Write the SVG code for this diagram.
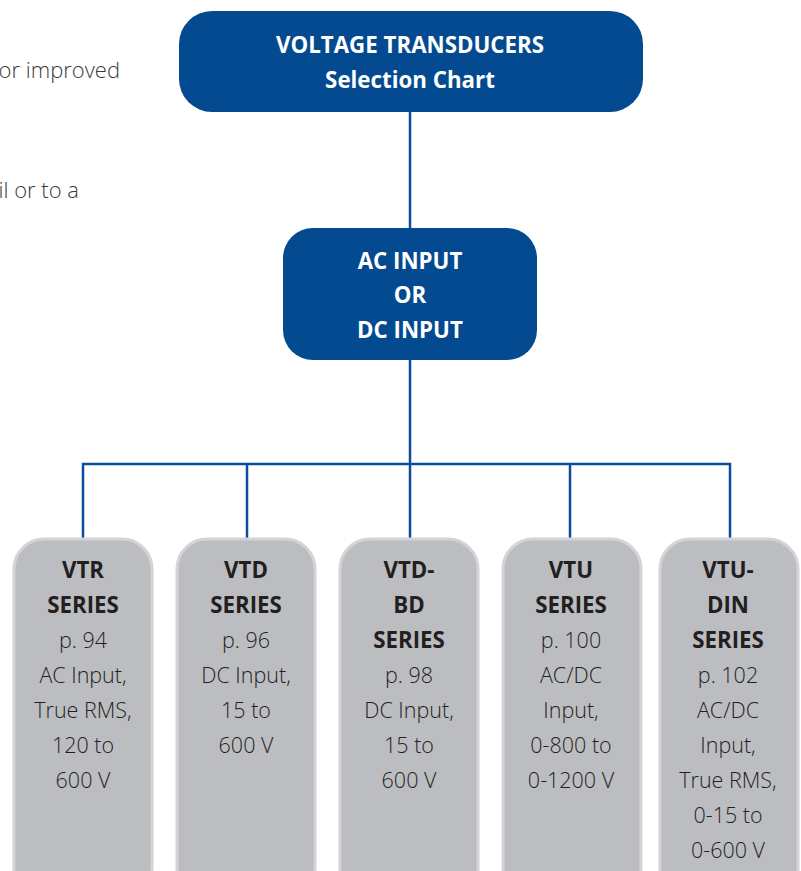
<svg xmlns="http://www.w3.org/2000/svg" width="801" height="871" viewBox="0 0 801 871">
<style>
.blue{fill:#034a91;}
.gray{fill:#bcbdc0;stroke:#d3d4d6;stroke-width:3;}
.wt{font-family:"Open Sans","Liberation Sans",sans-serif;font-weight:700;font-size:22.3px;fill:#ffffff;text-anchor:middle;}
.bt{font-family:"Open Sans","Liberation Sans",sans-serif;font-weight:700;font-size:22.3px;fill:#231f20;text-anchor:middle;}
.rt{font-family:"Open Sans","Liberation Sans",sans-serif;font-weight:300;font-size:21.5px;fill:#231f20;text-anchor:middle;}
.side{font-family:"Open Sans","Liberation Sans",sans-serif;font-weight:300;font-size:22px;fill:#3b3b3d;text-anchor:end;}
.conn{fill:none;stroke:#0b4f9c;stroke-width:2.5;}
</style>
<rect width="801" height="871" fill="#ffffff"/>
<g id="side-text">
<text class="side" x="120" y="78">or improved</text>
<text class="side" x="79" y="198">il or to a</text>
</g>
<g id="connectors">
<path class="conn" d="M410 112 V229"/>
<path class="conn" d="M410 360 V464"/>
<path class="conn" d="M83 538 V464 H730 V538"/>
<path class="conn" d="M247 464 V538"/>
<path class="conn" d="M410 464 V538"/>
<path class="conn" d="M570 464 V538"/>
</g>
<g id="title">
<rect class="blue" x="179" y="11" width="464" height="101" rx="33"/>
<text class="wt" x="410" y="53">VOLTAGE TRANSDUCERS</text>
<text class="wt" x="410" y="88">Selection Chart</text>
</g>
<g id="input">
<rect class="blue" x="283" y="228" width="254" height="132" rx="30"/>
<text class="wt" x="410" y="269">AC INPUT</text>
<text class="wt" x="410" y="303">OR</text>
<text class="wt" x="410" y="338">DC INPUT</text>
</g>
<g id="vtr">
<rect class="gray" x="14" y="539" width="138" height="360" rx="30"/>
<text class="bt" x="83" y="578">VTR</text>
<text class="bt" x="83" y="613">SERIES</text>
<text class="rt" x="83" y="648">p. 94</text>
<text class="rt" x="83" y="683">AC Input,</text>
<text class="rt" x="83" y="718">True RMS,</text>
<text class="rt" x="83" y="753">120 to</text>
<text class="rt" x="83" y="788">600 V</text>
</g>
<g id="vtd">
<rect class="gray" x="177" y="539" width="138" height="360" rx="30"/>
<text class="bt" x="246" y="578">VTD</text>
<text class="bt" x="246" y="613">SERIES</text>
<text class="rt" x="246" y="648">p. 96</text>
<text class="rt" x="246" y="683">DC Input,</text>
<text class="rt" x="246" y="718">15 to</text>
<text class="rt" x="246" y="753">600 V</text>
</g>
<g id="vtd-bd">
<rect class="gray" x="340" y="539" width="138" height="360" rx="30"/>
<text class="bt" x="409" y="578">VTD-</text>
<text class="bt" x="409" y="613">BD</text>
<text class="bt" x="409" y="648">SERIES</text>
<text class="rt" x="409" y="683">p. 98</text>
<text class="rt" x="409" y="718">DC Input,</text>
<text class="rt" x="409" y="753">15 to</text>
<text class="rt" x="409" y="788">600 V</text>
</g>
<g id="vtu">
<rect class="gray" x="503" y="539" width="138" height="360" rx="30"/>
<text class="bt" x="571" y="578">VTU</text>
<text class="bt" x="571" y="613">SERIES</text>
<text class="rt" x="571" y="648">p. 100</text>
<text class="rt" x="571" y="683">AC/DC</text>
<text class="rt" x="571" y="718">Input,</text>
<text class="rt" x="571" y="753">0-800 to</text>
<text class="rt" x="571" y="788">0-1200 V</text>
</g>
<g id="vtu-din">
<rect class="gray" x="660" y="539" width="138" height="360" rx="30"/>
<text class="bt" x="728" y="578">VTU-</text>
<text class="bt" x="728" y="613">DIN</text>
<text class="bt" x="728" y="648">SERIES</text>
<text class="rt" x="728" y="683">p. 102</text>
<text class="rt" x="728" y="718">AC/DC</text>
<text class="rt" x="728" y="753">Input,</text>
<text class="rt" x="728" y="788">True RMS,</text>
<text class="rt" x="728" y="823">0-15 to</text>
<text class="rt" x="728" y="858">0-600 V</text>
</g>
</svg>
